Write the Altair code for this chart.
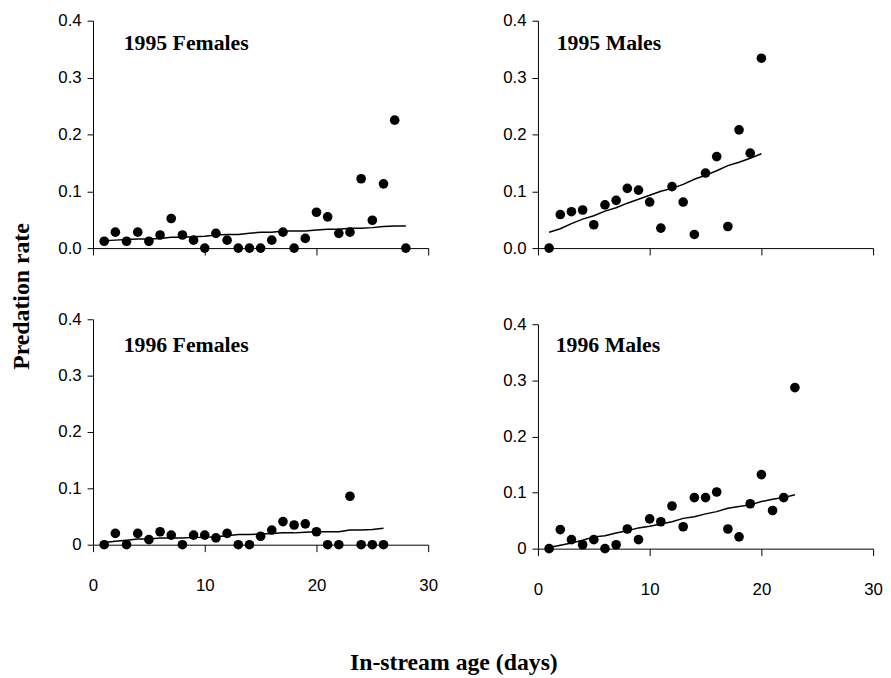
import altair as alt
import pandas as pd

# ---------------- data ----------------
days_f95 = list(range(1, 29))
rate_f95 = [0.012, 0.028, 0.012, 0.028, 0.012, 0.023, 0.052, 0.023, 0.014, 0.0,
            0.026, 0.014, 0.0, 0.0, 0.0, 0.014, 0.028, 0.0, 0.017, 0.063,
            0.055, 0.026, 0.028, 0.122, 0.049, 0.113, 0.225, 0.0]
trend_f95 = [0.013, 0.014, 0.015, 0.016, 0.016, 0.017, 0.019, 0.019, 0.020, 0.021,
             0.023, 0.024, 0.024, 0.026, 0.028, 0.028, 0.030, 0.030, 0.030, 0.032,
             0.033, 0.033, 0.035, 0.035, 0.036, 0.038, 0.039, 0.039]

days_m95 = list(range(1, 21))
rate_m95 = [0.0, 0.059, 0.064, 0.067, 0.041, 0.076, 0.084, 0.105, 0.102, 0.081,
            0.035, 0.108, 0.081, 0.024, 0.132, 0.161, 0.038, 0.208, 0.167, 0.334]
trend_m95 = [0.028, 0.034, 0.043, 0.051, 0.057, 0.065, 0.071, 0.079, 0.086, 0.093,
             0.100, 0.105, 0.112, 0.121, 0.128, 0.136, 0.145, 0.151, 0.158, 0.166]

days_f96 = list(range(1, 27))
rate_f96 = [0.0, 0.020, 0.0, 0.020, 0.009, 0.023, 0.017, 0.0, 0.017, 0.017,
            0.012, 0.020, 0.0, 0.0, 0.015, 0.026, 0.041, 0.035, 0.037, 0.023,
            0.0, 0.0, 0.086, 0.0, 0.0, 0.0]
trend_f96 = [0.004, 0.006, 0.008, 0.010, 0.010, 0.012, 0.012, 0.012, 0.013, 0.013,
             0.014, 0.016, 0.018, 0.018, 0.019, 0.020, 0.021, 0.021, 0.022, 0.023,
             0.023, 0.023, 0.026, 0.026, 0.027, 0.029]

days_m96 = list(range(1, 24))
rate_m96 = [0.0, 0.034, 0.016, 0.007, 0.016, 0.0, 0.007, 0.035, 0.016, 0.053,
            0.048, 0.076, 0.039, 0.091, 0.091, 0.101, 0.035, 0.021, 0.080, 0.132,
            0.068, 0.091, 0.287]
trend_m96 = [0.002, 0.006, 0.010, 0.015, 0.021, 0.023, 0.028, 0.032, 0.037, 0.040,
             0.044, 0.048, 0.054, 0.057, 0.062, 0.066, 0.072, 0.075, 0.078, 0.084,
             0.088, 0.091, 0.096]

x_ticks = [0, 10, 20, 30]
y_ticks = [0, 0.1, 0.2, 0.3, 0.4]

SANS = "Liberation Sans, Arial, sans-serif"
SERIF = "Liberation Serif, Times New Roman, serif"
W = 339


def panel(days, rates, trend, label, height, yrange, show_x_labels, zero_plain,
          lab_x, lab_y, extras=()):
    pts = pd.DataFrame({"day": days, "rate": rates})
    trd = pd.DataFrame({"day": days, "trend": trend})
    xscale = alt.Scale(domain=[0, 30], nice=False)
    yscale = alt.Scale(domain=[0, 0.4], nice=False, range=yrange) if yrange else \
        alt.Scale(domain=[0, 0.4], nice=False)
    xaxis = alt.Axis(values=x_ticks, title=None, grid=False, labels=show_x_labels,
                     tickSize=7, tickColor="black", domainColor="black",
                     labelFont=SANS, labelFontSize=17, labelColor="black",
                     labelPadding=26, labelFlush=False, labelOverlap=False)
    yfmt = {"labelExpr": "datum.value == 0 ? '0' : format(datum.value, '.1f')"} if zero_plain \
        else {"format": ".1f"}
    yaxis = alt.Axis(values=y_ticks, title=None, grid=False, tickSize=6,
                     tickColor="black", domainColor="black", labelFont=SANS,
                     labelFontSize=17, labelColor="black", labelPadding=6,
                     labelFlush=False, labelOverlap=False, **yfmt)
    dots = alt.Chart(pts).mark_circle(size=95, color="black", opacity=1).encode(
        x=alt.X("day:Q", scale=xscale, axis=xaxis),
        y=alt.Y("rate:Q", scale=yscale, axis=yaxis),
    )
    line = alt.Chart(trd).mark_line(color="black", strokeWidth=1.5).encode(
        x=alt.X("day:Q", scale=xscale),
        y=alt.Y("trend:Q", scale=yscale),
    )
    txt = alt.Chart(pd.DataFrame({"t": [label]})).mark_text(
        font=SERIF, fontSize=22, fontWeight="bold", align="left",
        baseline="alphabetic", color="black").encode(
        text="t:N", x=alt.value(lab_x), y=alt.value(lab_y))
    return alt.layer(dots, line, txt, *extras).properties(width=W, height=height)


ytitle = alt.Chart(pd.DataFrame({"t": ["Predation rate"]})).mark_text(
    font=SERIF, fontSize=24, fontWeight="bold", angle=270, align="center",
    baseline="alphabetic", color="black").encode(
    text="t:N", x=alt.value(-65), y=alt.value(279))

xtitle = alt.Chart(pd.DataFrame({"t": ["In-stream age (days)"]})).mark_text(
    font=SERIF, fontSize=24, fontWeight="bold", align="center",
    baseline="alphabetic", color="black").encode(
    text="t:N", x=alt.value(365), y=alt.value(355))

tl = panel(days_f95, rate_f95, trend_f95, "1995 Females", 230, None, False, False,
           31, 30, extras=(ytitle,))
tr = panel(days_m95, rate_m95, trend_m95, "1995 Males", 230, None, False, False,
           19, 30)
bl = panel(days_f96, rate_f96, trend_f96, "1996 Females", 228, None, True, True,
           31, 33, extras=(xtitle,))
br = panel(days_m96, rate_m96, trend_m96, "1996 Males", 232, [232, 5], True, True,
           18, 33)

chart = alt.concat(tl, tr, bl, br, columns=2,
                   spacing={"row": 72, "column": 111},
                   bounds="flush", align="each").configure_view(
    stroke=None).properties(
    padding={"left": 2, "top": 0, "right": 0, "bottom": 0},
    background="white")

chart.save("out.html", embed_options={"renderer": "svg", "actions": False})
